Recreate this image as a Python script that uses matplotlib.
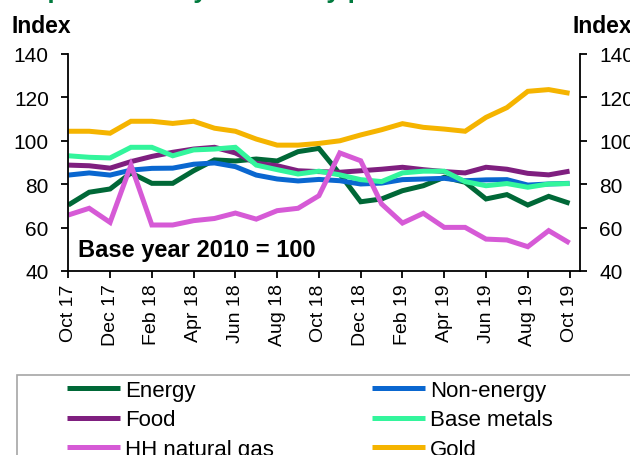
#!/usr/bin/env python3
# -*- coding: utf-8 -*-
"""Commodity price indices by type, Oct 2017 - Oct 2019 (base year 2010 = 100)."""

import matplotlib as mpl
import matplotlib.pyplot as plt
from matplotlib.patches import Rectangle


# =======================
# Global style
# =======================
mpl.rcParams["font.family"] = ["Liberation Sans", "DejaVu Sans"]
mpl.rcParams["axes.unicode_minus"] = False


# =======================
# Data
# =======================
MONTHS = [
    "Oct 17", "Nov 17", "Dec 17", "Jan 18", "Feb 18", "Mar 18", "Apr 18",
    "May 18", "Jun 18", "Jul 18", "Aug 18", "Sep 18", "Oct 18", "Nov 18",
    "Dec 18", "Jan 19", "Feb 19", "Mar 19", "Apr 19", "May 19", "Jun 19",
    "Jul 19", "Aug 19", "Sep 19", "Oct 19",
]

ENERGY = [70.4, 76.3, 77.8, 85.2, 80.4, 80.4, 86.2, 91.2, 90.7, 91.6, 90.7, 95.0, 96.5,
          84.7, 71.9, 73.2, 77.0, 79.3, 83.2, 80.9, 73.2, 75.2, 70.4, 74.4, 71.2]
NON_ENERGY = [84.2, 85.2, 84.2, 86.5, 87.3, 87.4, 89.2, 89.8, 88.1, 84.2, 82.4, 81.5, 82.2,
              81.6, 80.1, 80.5, 82.1, 82.4, 82.7, 81.6, 82.0, 82.1, 79.6, 80.1, 80.4]
FOOD = [88.8, 88.5, 87.4, 90.4, 92.8, 94.7, 96.2, 97.0, 94.4, 89.6, 88.5, 86.2, 85.8,
        85.5, 86.2, 86.9, 87.8, 86.7, 85.8, 85.2, 87.8, 86.9, 85.0, 84.3, 86.0]
BASE_METALS = [93.1, 92.4, 92.1, 97.0, 97.0, 93.1, 95.8, 96.2, 97.0, 88.8, 86.7, 84.7, 86.0,
               84.3, 82.1, 81.2, 85.2, 86.0, 86.0, 81.2, 79.3, 80.3, 78.6, 80.1, 80.3]
HH_GAS = [65.8, 68.9, 62.4, 88.8, 61.2, 61.2, 63.2, 64.2, 66.7, 63.9, 67.8, 68.9, 74.7,
          94.4, 90.8, 70.9, 62.1, 66.6, 60.1, 60.1, 54.7, 54.3, 51.2, 58.6, 52.9]
GOLD = [104.4, 104.4, 103.5, 109.0, 109.0, 108.0, 109.0, 105.8, 104.4, 100.8, 98.0, 98.0, 98.8,
        100.0, 102.7, 105.1, 107.9, 106.2, 105.4, 104.4, 110.8, 115.3, 122.8, 123.6, 121.9]

SERIES_NAMES = ["Energy", "Non-energy", "Food", "Base metals", "HH natural gas", "Gold"]
Y_TICKS = [40, 60, 80, 100, 120, 140]


# =======================
# Styles
# =======================
COLORS = {
    "Energy": "#006837",
    "Non-energy": "#0a67d0",
    "Food": "#7f1f7f",
    "Base metals": "#33f59c",
    "HH natural gas": "#d65ad6",
    "Gold": "#f5b400",
}
LW = 3.6
W, H = 630, 456


def fx(px):
    return px / W


def fy(py):
    return 1 - py / H


def main():
    series = [ENERGY, NON_ENERGY, FOOD, BASE_METALS, HH_GAS, GOLD]
    x = list(range(len(MONTHS)))

    fig = plt.figure(figsize=(W / 100, H / 100), dpi=100)
    ax = fig.add_axes([fx(68.3), fy(272), fx(580) - fx(68.3), fy(55) - fy(272)])

    lines = {}
    for name, vals in zip(SERIES_NAMES, series):
        (ln,) = ax.plot(x, vals, color=COLORS[name], lw=LW, solid_joinstyle="miter",
                        solid_capstyle="butt", label=name)
        lines[name] = ln

    ax.set_xlim(0, len(MONTHS) - 0.5)
    ax.set_ylim(40, 140)
    ax.set_yticks(Y_TICKS)
    ax.set_xticks(x[::2])
    ax.set_xticklabels(MONTHS[::2], rotation=90, fontsize=14)

    ax.spines["top"].set_visible(False)
    for s in ["left", "right", "bottom"]:
        ax.spines[s].set_linewidth(1.3)
    ax.tick_params(axis="y", which="both", left=True, right=True, labelleft=True,
                   labelright=True, direction="out", length=5, width=1.3,
                   labelsize=15, pad=9)
    ax.tick_params(axis="x", direction="out", length=5, width=1.3, pad=4)

    # axis titles
    fig.text(fx(11.7), fy(33.3), "Index", fontsize=16.5, fontweight="bold", va="baseline")
    fig.text(fx(573), fy(33.3), "Index", fontsize=16.5, fontweight="bold", va="baseline")

    # cut-off chart title
    fig.text(fx(18), fy(-1.5), "Top commodity indices by performance", fontsize=18.5,
             fontweight="bold", color="#007a3d", va="baseline")

    fig.text(fx(78), fy(257.3), "Base year 2010 = 100", fontsize=17, fontweight="bold",
             va="baseline")

    # legend box (runs off the right and bottom edges)
    fig.patches.append(Rectangle((fx(16.7), fy(470)), fx(700), fy(375.7) - fy(470),
                                 transform=fig.transFigure, fill=False,
                                 edgecolor="#a6a6a6", lw=1.2, clip_on=False))

    order = ["Energy", "Food", "HH natural gas", "Non-energy", "Base metals", "Gold"]
    fig.legend([lines[n] for n in order], order, loc="upper left",
               bbox_to_anchor=(fx(66.7), fy(381)), ncol=2, frameon=False,
               fontsize=16, borderpad=0, borderaxespad=0, handlelength=2.4,
               handletextpad=0.22, columnspacing=4.4, labelspacing=0.38)

    fig.savefig("out.png", dpi=100)


if __name__ == "__main__":
    main()
